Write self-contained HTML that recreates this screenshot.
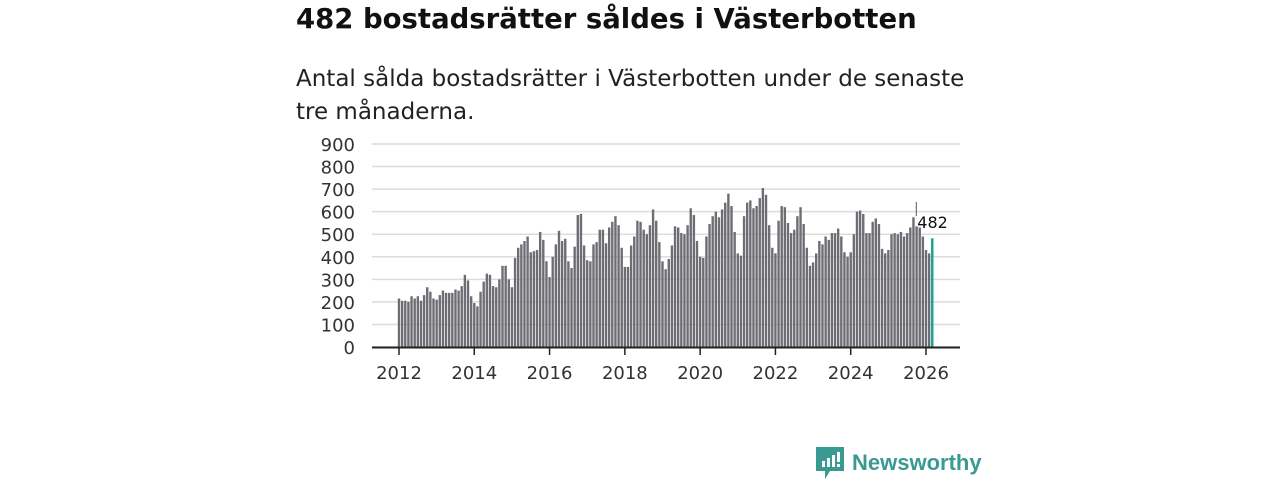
<!DOCTYPE html>
<html><head><meta charset="utf-8">
<style>
body{margin:0;width:1280px;height:480px;background:#fff;font-family:"DejaVu Sans","Liberation Sans",sans-serif;overflow:hidden;position:relative}
#title{position:absolute;left:296px;top:3px;font-size:27.5px;font-weight:bold;color:#111;margin:0;white-space:nowrap}
#sub{position:absolute;left:296px;top:63px;font-size:23px;line-height:33px;color:#222;width:690px}
#logo{position:absolute;left:816px;top:447px;display:flex;align-items:center;gap:8px}
#logo span{font-size:22px;color:#3a9a92;font-weight:bold;font-family:"Liberation Sans",sans-serif}
</style></head><body>
<h1 id="title">482 bostadsrätter såldes i Västerbotten</h1>
<div id="sub">Antal sålda bostadsrätter i Västerbotten under de senaste tre månaderna.</div>
<svg id="chart" width="1280" height="480" style="position:absolute;left:0;top:0"></svg>
<div id="logo">
<svg width="28" height="32" viewBox="0 0 28 32"><path d="M0 0H28V24H14L9 32V24H0Z" fill="#3a9a92"/><rect x="6" y="14" width="3" height="6" fill="#fff"/><rect x="11" y="11" width="3" height="9" fill="#fff"/><rect x="16" y="8" width="3" height="12" fill="#fff"/><rect x="21" y="5" width="3" height="10" fill="#fff"/><rect x="21" y="17" width="3" height="3" fill="#fff"/></svg>
<span>Newsworthy</span></div>
<script>
const startYear = 2012;
const values = [
215,205,205,200,225,215,225,205,230,265,245,215,
210,230,250,240,240,240,255,250,270,320,295,225,
195,180,245,290,325,320,270,265,300,360,360,300,
265,395,440,455,470,490,420,425,430,510,475,380,
310,400,455,515,470,480,380,350,445,585,590,450,
385,380,455,465,520,520,460,530,555,580,540,440,
355,355,450,490,560,555,520,500,540,610,560,465,
380,345,390,450,535,530,505,500,540,615,585,470,
400,395,490,545,580,600,575,610,640,680,625,510,
415,405,580,640,650,615,625,660,705,675,540,440,
415,560,625,620,550,505,520,580,620,545,440,360,
375,415,470,455,490,475,505,505,525,490,420,400,
420,500,600,605,590,505,505,555,570,545,435,415,
430,500,505,500,510,490,505,530,575,535,530,490,
430,415,482];
const yTicks = [0,100,200,300,400,500,600,700,800,900];
const xTicks = [2012,2014,2016,2018,2020,2022,2024,2026];
const highlightLabel = "482";

const svg = document.getElementById('chart');
const NS = 'http://www.w3.org/2000/svg';
const y = v => 347 - v * (203/900);
const yearX = yr => 399 + (yr - 2012) * (527/14);
const x = i => yearX(startYear + i/12);
function mk(t, a){const e=document.createElementNS(NS,t);for(const k in a)e.setAttribute(k,a[k]);svg.appendChild(e);return e;}
yTicks.forEach(t=>{
  const g = mk('line',{x1:372,x2:960,y1:y(t),y2:y(t),stroke:'#dcdcdc','stroke-width':1.5});
  
  
  const l = mk('text',{x:355,y:y(t)+7,'text-anchor':'end','font-size':18,fill:'#333'});
  l.textContent = t;
  
  
});
values.forEach((v,i)=>{
  const last = i === values.length-1;
  const r = mk('rect',{x:x(i)-1.2,y:y(v),width:2.4,height:347-y(v),fill:last?'#1a9e91':'#6e6d74'});
  
  
});
const ax = mk('line',{x1:372,x2:960,y1:347.5,y2:347.5,stroke:'#222','stroke-width':2});


xTicks.forEach(t=>{
  const tk = mk('line',{x1:yearX(t),x2:yearX(t),y1:347,y2:355,stroke:'#222','stroke-width':1.5});
  
  
  const l = mk('text',{x:yearX(t),y:379,'text-anchor':'middle','font-size':18,fill:'#333'});
  l.textContent = t;
  
  
});
const li = values.length-1;
const lead = mk('line',{x1:x(li)-16,x2:x(li)-16,y1:202,y2:216,stroke:'#555','stroke-width':1});


const ann = mk('text',{x:x(li)-15,y:228,'font-size':16,fill:'#111'});
ann.textContent = highlightLabel;


</script>
</body></html>
